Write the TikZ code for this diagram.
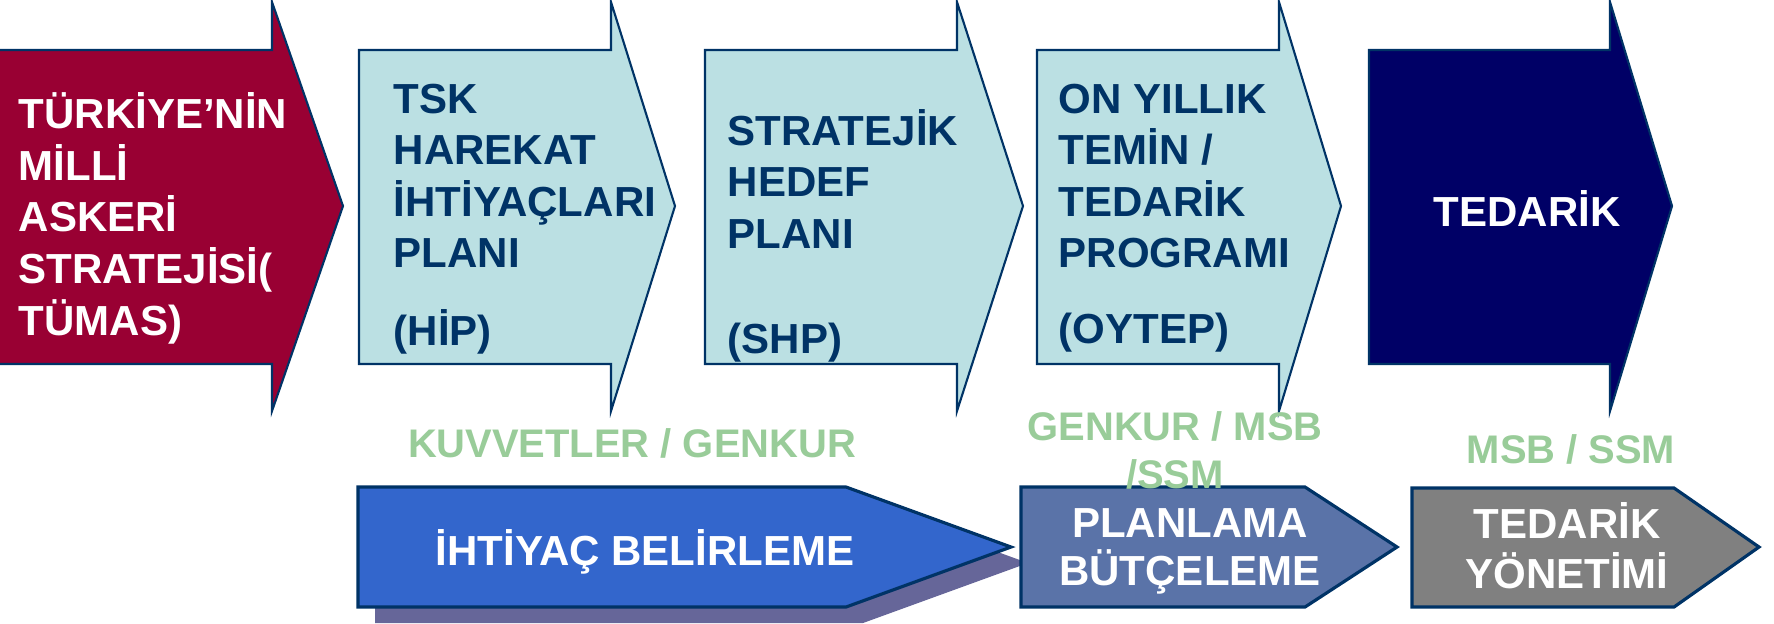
\documentclass[tikz,border=0pt]{standalone}
\usepackage{fontspec}
\setmainfont{Liberation Sans}

\definecolor{tumasred}{HTML}{990033}
\definecolor{planblue}{HTML}{BBE0E3}
\definecolor{supplynavy}{HTML}{000066}
\definecolor{edgeblue}{HTML}{003366}
\definecolor{needblue}{HTML}{3366CC}
\definecolor{shadowpurple}{HTML}{666699}
\definecolor{budgetblue}{HTML}{5A73A8}
\definecolor{supplygray}{HTML}{808080}
\definecolor{orggreen}{HTML}{99CC99}

\tikzset{
  step arrow/.style={draw=edgeblue, line width=0.6pt, line join=miter},
  phase arrow/.style={draw=edgeblue, line width=0.9pt, line join=miter},
  big label/.style={font=\fontsize{11.95}{14.65}\selectfont\bfseries, inner sep=0pt},
  org label/.style={inner sep=0pt, text=orggreen, align=center, font=\fontsize{11.35}{13.4}\selectfont\bfseries}
}

\begin{document}
\begin{tikzpicture}[x=0.01cm, y=-0.01cm]
    \path[use as bounding box] (0,0) rectangle (1774,623);

    \filldraw [step arrow, fill=tumasred] (-5,50) -- (272,50) -- (272,2) -- (343,206) -- (272,411) -- (272,364) -- (-5,364) -- cycle;
    \filldraw [step arrow, fill=planblue] (359,50) -- (611,50) -- (611,2) -- (675,206) -- (611,411) -- (611,364) -- (359,364) -- cycle;
    \filldraw [step arrow, fill=planblue] (705,50) -- (957,50) -- (957,2) -- (1023,206) -- (957,411) -- (957,364) -- (705,364) -- cycle;
    \filldraw [step arrow, fill=planblue] (1037,50) -- (1279,50) -- (1279,2) -- (1341,206) -- (1279,411) -- (1279,364) -- (1037,364) -- cycle;
    \filldraw [step arrow, fill=supplynavy] (1369,50) -- (1610,50) -- (1610,2) -- (1672,206) -- (1610,411) -- (1610,364) -- (1369,364) -- cycle;

    \fill [fill=shadowpurple] (375,503) -- (863,503) -- (1028,563) -- (863,623) -- (375,623) -- cycle;
    \filldraw [phase arrow, fill=needblue] (358,487) -- (846,487) -- (1011,547) -- (846,607) -- (358,607) -- cycle;
    \filldraw [phase arrow, fill=budgetblue] (1021,487) -- (1305,487) -- (1397,547) -- (1305,607) -- (1021,607) -- cycle;
    \filldraw [phase arrow, fill=supplygray] (1412,488) -- (1674,488) -- (1759,547) -- (1674,607) -- (1412,607) -- cycle;

    % multi-line labels sit on the baseline of their last line
    \node (tumas-text) at (18,335) [big label, text=white, align=left, anchor=base west] {TÜRKİYE’NİN\\MİLLİ\\ASKERİ\\STRATEJİSİ(\\TÜMAS)};
    \node (hip-text) at (393,345) [big label, text=edgeblue, align=left, anchor=base west] {TSK\\HAREKAT\\İHTİYAÇLARI\\PLANI\\[7.3pt](HİP)};
    \node (shp-text) at (727,353) [big label, text=edgeblue, align=left, anchor=base west] {STRATEJİK\\HEDEF\\PLANI\\[15.2pt](SHP)};
    \node (oytep-text) at (1058,343) [big label, text=edgeblue, align=left, anchor=base west] {ON YILLIK\\TEMİN /\\TEDARİK\\PROGRAMI\\[6.7pt](OYTEP)};
    \node (supply-text) at (1527,226) [big label, text=white, anchor=base] {TEDARİK};

    \node (need-text) at (645,565) [big label, text=white, anchor=base] {İHTİYAÇ BELİRLEME};
    \node (budget-text) at (1190,585) [big label, text=white, align=center, anchor=base, font=\fontsize{11.95}{13.4}\selectfont\bfseries] {PLANLAMA\\BÜTÇELEME};
    \node (manage-text) at (1567,588) [big label, text=white, align=center, anchor=base, font=\fontsize{11.95}{14.2}\selectfont\bfseries] {TEDARİK\\YÖNETİMİ};

    \node (forces-org) at (632,457) [org label, anchor=base] {KUVVETLER / GENKUR};
    \node (staff-org) at (1175,488) [org label, anchor=base] {GENKUR / MSB\\/SSM};
    \node (ssm-org) at (1571,463) [org label, anchor=base] {MSB / SSM};
  \end{tikzpicture}
\end{document}
